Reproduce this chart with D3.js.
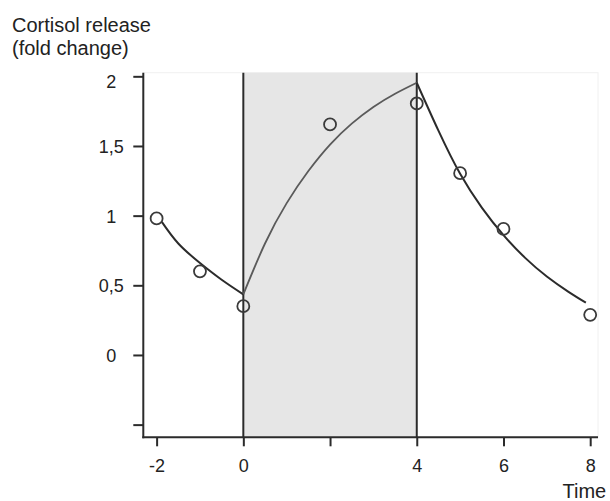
<!DOCTYPE html>
<html>
<head>
<meta charset="utf-8">
<script src="https://cdn.jsdelivr.net/npm/d3@7"></script>
<style>
  html, body { margin: 0; padding: 0; background: #fff; }
  svg { display: block; font-family: "Liberation Sans", Arial, sans-serif; }
</style>
</head>
<body>
<svg id="chart" width="610" height="501"></svg>
<script>
// ---- data ----
const obsTime  = [-2, -1, 0, 2, 4, 5, 6, 8];
const obsValue = [0.98, 0.60, 0.35, 1.655, 1.805, 1.305, 0.905, 0.288];

// fitted curves
const preTime   = [-1.88, -1.5, -1, -0.5, 0];
const preValue  = [0.955, 0.80, 0.66, 0.54, 0.435];
const stimTime  = [0, 0.5, 1, 1.5, 2, 2.5, 3, 3.5, 4];
const stimValue = [0.435, 0.80, 1.09, 1.32, 1.51, 1.66, 1.78, 1.875, 1.954];
const postTime  = [4, 4.5, 5, 5.5, 6, 6.5, 7, 7.5, 7.9];
const postValue = [1.954, 1.61, 1.30, 1.058, 0.86, 0.697, 0.563, 0.453, 0.375];

const stimStart = 0, stimEnd = 4;

const yTicks      = [2, 1.5, 1, 0.5, 0, -0.5];
const yTickLabels = ["2", "1,5", "1", "0,5", "0", ""];
const xTicks      = [-2, 0, 2, 4, 6, 8];
const xTickLabels = ["-2", "0", "", "4", "6", "8"];

const yTitle = ["Cortisol release", "(fold change)"];
const xTitle = "Time";

// ---- layout ----
const svg = d3.select("#chart");
const x = d3.scaleLinear().domain([-2.307, 8.18]).range([143.3, 598]);
const y = d3.scaleLinear().domain([-0.591, 2.026]).range([437.3, 72.7]);
const ink = "#2b2b2b";

// faint plot frame
svg.append("rect")
  .attr("x", x.range()[0]).attr("y", y.range()[1])
  .attr("width", x.range()[1] - x.range()[0])
  .attr("height", y.range()[0] - y.range()[1])
  .attr("fill", "#fff").attr("stroke", "#f0f0f0").attr("stroke-width", 1);

// shaded stimulation period
svg.append("rect")
  .attr("x", x(stimStart)).attr("y", y.range()[1])
  .attr("width", x(stimEnd) - x(stimStart))
  .attr("height", y.range()[0] - y.range()[1])
  .attr("fill", "#e6e6e6");

// vertical boundary lines
svg.selectAll("line.bound").data([stimStart, stimEnd]).enter().append("line")
  .attr("class", "bound")
  .attr("x1", d => x(d)).attr("x2", d => x(d))
  .attr("y1", y.range()[1]).attr("y2", y.range()[0])
  .attr("stroke", ink).attr("stroke-width", 2);

// axes
const yAxis = d3.axisLeft(y).tickValues(yTicks)
  .tickFormat((d, i) => yTickLabels[i]).tickSize(10).tickSizeOuter(0);
const gy = svg.append("g").attr("transform", `translate(${x.range()[0]},0)`).call(yAxis);
gy.select(".domain").attr("stroke", ink).attr("stroke-width", 2)
  .attr("d", `M0,${y.range()[1]}V${y.range()[0] + 1}`);
gy.selectAll(".tick line").attr("stroke", ink).attr("stroke-width", 2);
gy.selectAll(".tick text")
  .attr("x", -32).attr("text-anchor", "middle")
  .attr("dy", (d, i) => i === 0 ? "0.6em" : "0.36em")
  .attr("fill", "#222").style("font-size", "18px");

const xAxis = d3.axisBottom(x).tickValues(xTicks)
  .tickFormat((d, i) => xTickLabels[i]).tickSize(9).tickSizeOuter(0);
const gx = svg.append("g").attr("transform", `translate(0,${y.range()[0]})`).call(xAxis);
gx.select(".domain").attr("stroke", ink).attr("stroke-width", 2)
  .attr("d", `M${x.range()[0] - 1},0H${x.range()[1]}`);
gx.selectAll(".tick line").attr("stroke", ink).attr("stroke-width", 2);
gx.selectAll(".tick text")
  .attr("y", 34.5).attr("dy", 0).attr("text-anchor", "middle")
  .attr("fill", "#222").style("font-size", "18px");

// curves
const line = d3.line().x(d => x(d[0])).y(d => y(d[1])).curve(d3.curveNatural);
const curves = [
  { t: preTime,  v: preValue,  color: ink,       w: 2 },
  { t: stimTime, v: stimValue, color: "#5a5a5a", w: 1.8 },
  { t: postTime, v: postValue, color: ink,       w: 2 }
];
curves.forEach(c => {
  svg.append("path")
    .datum(c.t.map((t, i) => [t, c.v[i]]))
    .attr("d", line)
    .attr("fill", "none").attr("stroke", c.color).attr("stroke-width", c.w);
});

// observed points
svg.selectAll("circle.obs").data(obsTime.map((t, i) => [t, obsValue[i]])).enter()
  .append("circle").attr("class", "obs")
  .attr("cx", d => x(d[0])).attr("cy", d => y(d[1])).attr("r", 6)
  .attr("fill", "none").attr("stroke", "#3a3a3a").attr("stroke-width", 1.8);

// titles
svg.append("text").attr("x", 12).attr("y", 32)
  .attr("fill", "#222").style("font-size", "20px").text(yTitle[0]);
svg.append("text").attr("x", 12).attr("y", 55)
  .attr("fill", "#222").style("font-size", "20px").text(yTitle[1]);
svg.append("text").attr("x", 562.5).attr("y", 498)
  .attr("fill", "#222").style("font-size", "20px").text(xTitle);
</script>
</body>
</html>
